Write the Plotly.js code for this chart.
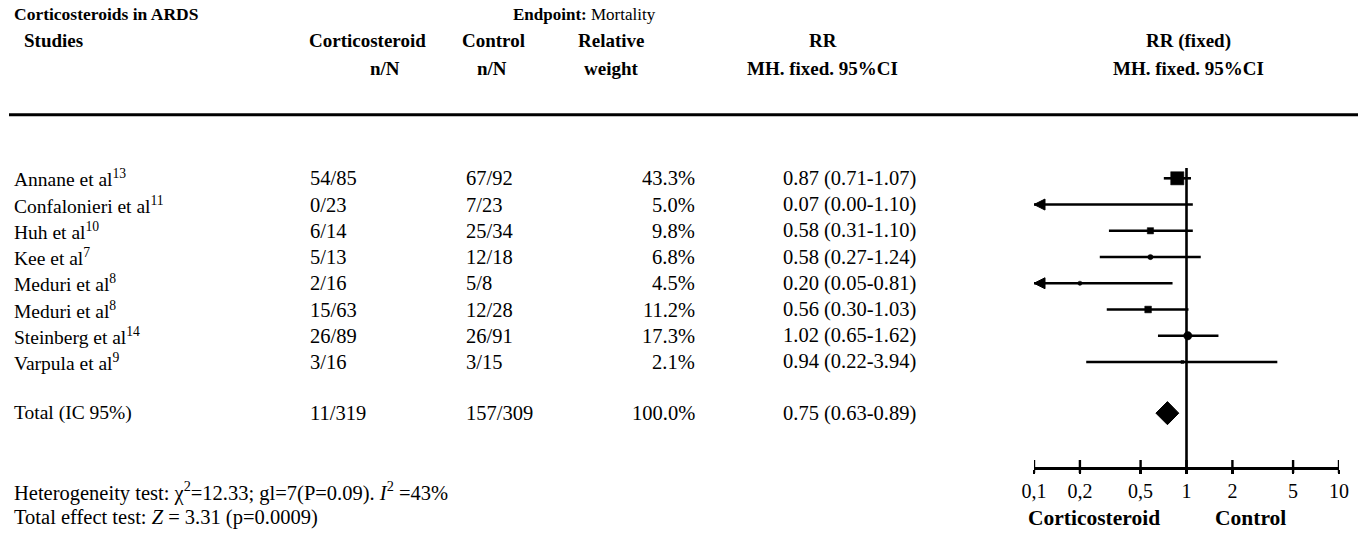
<!DOCTYPE html>
<html>
<head>
<meta charset="utf-8">
<script src="https://cdn.plot.ly/plotly-3.0.1.min.js"></script>
<style>html,body{margin:0;padding:0;background:#fff;}#chart{width:1358px;height:546px;}</style>
</head>
<body>
<div id="chart"></div>
<script>
// ---------- data ----------
const studies = ['Annane et al','Confalonieri et al','Huh et al','Kee et al','Meduri et al','Meduri et al','Steinberg et al','Varpula et al'];
const refs = ['13','11','10','7','8','8','14','9'];
const corticoEvents = [54,0,6,5,2,15,26,3];
const corticoTotal = [85,23,14,13,16,63,89,16];
const controlEvents = [67,7,25,12,5,12,26,3];
const controlTotal = [92,23,34,18,8,28,91,15];
const weight = [43.3,5.0,9.8,6.8,4.5,11.2,17.3,2.1];
const rr = [0.87,0.07,0.58,0.58,0.20,0.56,1.02,0.94];
const rrLow = [0.71,0.00,0.31,0.27,0.05,0.30,0.65,0.22];
const rrHigh = [1.07,1.10,1.10,1.24,0.81,1.03,1.62,3.94];
const totalLabel = 'Total (IC 95%)';
const totalCortico = '11/319';
const totalControl = '157/309';
const totalWeight = 100.0;
const totalRR = 0.75, totalLow = 0.63, totalHigh = 0.89;
const tickVals = [0.1,0.2,0.5,1,2,5,10];
const tickText = ['0,1','0,2','0,5','1','2','5','10'];
const heterogeneity = 'Heterogeneity test: χ<sup>2</sup>=12.33; gl=7(P=0.09). <i>I</i><sup>2</sup> =43%';
const effectTest = 'Total effect test: <i>Z</i> = 3.31 (p=0.0009)';

// ---------- styles / layout helpers ----------
const symbols = ['square','square','square','circle','circle','square','circle','square'];
const W = 1358, H = 546;
const ROW0 = 178.3, ROWH = 26.24;
const TOTAL_ROW = 8.95;
const FONT = 'Liberation Serif, Times New Roman, serif';
const FS_TITLE = 17.5;
const FS_HEAD = 19;
const FS_TEXT = 19.5;
const FS_NUM = 20.5;
const FS_FOOT = 20.5;
const FS_TICK = 20;
const FS_SIDE = 21.5;
const px = x => x / W;
const py = y => 1 - y / H;
const XMIN = 0.1, XMAX = 10;
const AXIS_Y = 468;

const rows = studies.map((_, i) => i);

// CI lines (clipped at axis range, with arrows)
const lx = [], ly = [], ax = [], ay = [];
rows.forEach(i => {
  const a = Math.max(rrLow[i], XMIN), b = Math.min(rrHigh[i], XMAX);
  lx.push(a, b, null); ly.push(i, i, null);
  if (rrLow[i] < XMIN) { ax.push(XMIN); ay.push(i); }
});

const traces = [
  {x: lx, y: ly, mode: 'lines', line: {color: '#000', width: 2.6}, hoverinfo: 'skip', showlegend: false},
  {x: ax, y: ay, mode: 'markers', marker: {symbol: 'arrow-left', size: 11, color: '#000', opacity: 1, line: {color: '#000', width: 1}}, hoverinfo: 'skip', showlegend: false},
  {x: rr, y: rows, mode: 'markers', marker: {symbol: symbols, size: weight.map(w => 2 * Math.sqrt(w)), color: '#000', opacity: 1, line: {color: '#000', width: 0.5}}, hoverinfo: 'skip', showlegend: false},
  {x: [totalLow, totalRR, totalHigh, totalRR, totalLow], y: [TOTAL_ROW, TOTAL_ROW - 0.44, TOTAL_ROW, TOTAL_ROW + 0.44, TOTAL_ROW],
   mode: 'lines', fill: 'toself', fillcolor: '#000', line: {color: '#000', width: 1}, hoverinfo: 'skip', showlegend: false}
];

const annotations = [];
function ann(text, x, y, xanchor, size, opts) {
  annotations.push(Object.assign({
    text: text, x: px(x), y: y, xref: 'paper', yref: 'y', xanchor: xanchor, yanchor: 'middle',
    showarrow: false, font: {family: FONT, size: size, color: '#000'}
  }, opts || {}));
}
function annP(text, x, ypix, xanchor, size, opts) {
  ann(text, x, py(ypix), xanchor, size, Object.assign({yref: 'paper'}, opts || {}));
}

// headers
annP('<b>Corticosteroids in ARDS</b>', 12, 14, 'left', FS_TITLE);
annP('<b>Endpoint:</b> Mortality', 511, 14, 'left', 17);
annP('<b>Studies</b>', 22, 41, 'left', FS_HEAD);
annP('<b>Corticosteroid</b>', 367, 41, 'center', FS_HEAD);
annP('<b>n/N</b>', 385, 68, 'center', FS_HEAD);
annP('<b>Control</b>', 493, 41, 'center', FS_HEAD);
annP('<b>n/N</b>', 492, 68, 'center', FS_HEAD);
annP('<b>Relative</b>', 611, 41, 'center', FS_HEAD);
annP('<b>weight</b>', 611, 68, 'center', FS_HEAD);
annP('<b>RR</b>', 823, 41, 'center', FS_HEAD);
annP('<b>MH. fixed. 95%CI</b>', 822, 68, 'center', FS_HEAD);
annP('<b>RR (fixed)</b>', 1188, 41, 'center', FS_HEAD);
annP('<b>MH. fixed. 95%CI</b>', 1188, 68, 'center', FS_HEAD);

// table rows
rows.forEach(i => {
  ann(studies[i] + '<sup>' + refs[i] + '</sup>', 12, i, 'left', FS_TEXT);
  ann(corticoEvents[i] + '/' + corticoTotal[i], 308, i, 'left', FS_NUM);
  ann(controlEvents[i] + '/' + controlTotal[i], 464, i, 'left', FS_NUM);
  ann(weight[i].toFixed(1) + '%', 697, i, 'right', FS_NUM);
  ann(rr[i].toFixed(2) + ' (' + rrLow[i].toFixed(2) + '-' + rrHigh[i].toFixed(2) + ')', 781, i, 'left', FS_NUM);
});
ann(totalLabel, 12, TOTAL_ROW, 'left', FS_TEXT);
ann(totalCortico, 308, TOTAL_ROW, 'left', FS_NUM);
ann(totalControl, 464, TOTAL_ROW, 'left', FS_NUM);
ann(totalWeight.toFixed(1) + '%', 697, TOTAL_ROW, 'right', FS_NUM);
ann(totalRR.toFixed(2) + ' (' + totalLow.toFixed(2) + '-' + totalHigh.toFixed(2) + ')', 781, TOTAL_ROW, 'left', FS_NUM);

// footers
annP(heterogeneity, 12, 491, 'left', FS_FOOT);
annP(effectTest, 12, 517, 'left', FS_FOOT);
annP('<b>Corticosteroid</b>', 1094, 518, 'center', FS_SIDE);
annP('<b>Control</b>', 1250, 518, 'center', FS_SIDE);

// shapes: header rule, null line, tick marks
const shapes = [
  {type: 'line', xref: 'paper', yref: 'paper', x0: px(9), x1: 1, y0: py(114.7), y1: py(114.7), line: {color: '#000', width: 3}},
  {type: 'line', xref: 'x', yref: 'paper', x0: 1, x1: 1, y0: py(168), y1: py(AXIS_Y), line: {color: '#000', width: 2.6}}
];
tickVals.forEach(v => shapes.push({type: 'line', xref: 'x', yref: 'paper', x0: v, x1: v, y0: py(460), y1: py(473), line: {color: '#000', width: 2.4}}));

const layout = {
  width: W, height: H,
  margin: {l: 0, r: 0, t: 0, b: 0},
  paper_bgcolor: '#fff', plot_bgcolor: 'rgba(0,0,0,0)',
  showlegend: false,
  xaxis: {
    type: 'log', range: [Math.log10(XMIN), Math.log10(XMAX)],
    domain: [px(1034), px(1339)],
    anchor: 'free', position: py(AXIS_Y),
    showline: true, linecolor: '#000', linewidth: 2.6,
    ticks: 'outside', ticklen: 4, tickwidth: 2.4, tickcolor: '#000',
    tickvals: tickVals, ticktext: tickText,
    tickfont: {family: FONT, size: FS_TICK, color: '#000'},
    showgrid: false, zeroline: false, fixedrange: true
  },
  yaxis: {
    range: [(H - ROW0) / ROWH, -ROW0 / ROWH], domain: [0, 1],
    visible: false, showgrid: false, zeroline: false, fixedrange: true
  },
  annotations: annotations,
  shapes: shapes
};

Plotly.newPlot('chart', traces, layout, {staticPlot: true, displayModeBar: false});
</script>
</body>
</html>
